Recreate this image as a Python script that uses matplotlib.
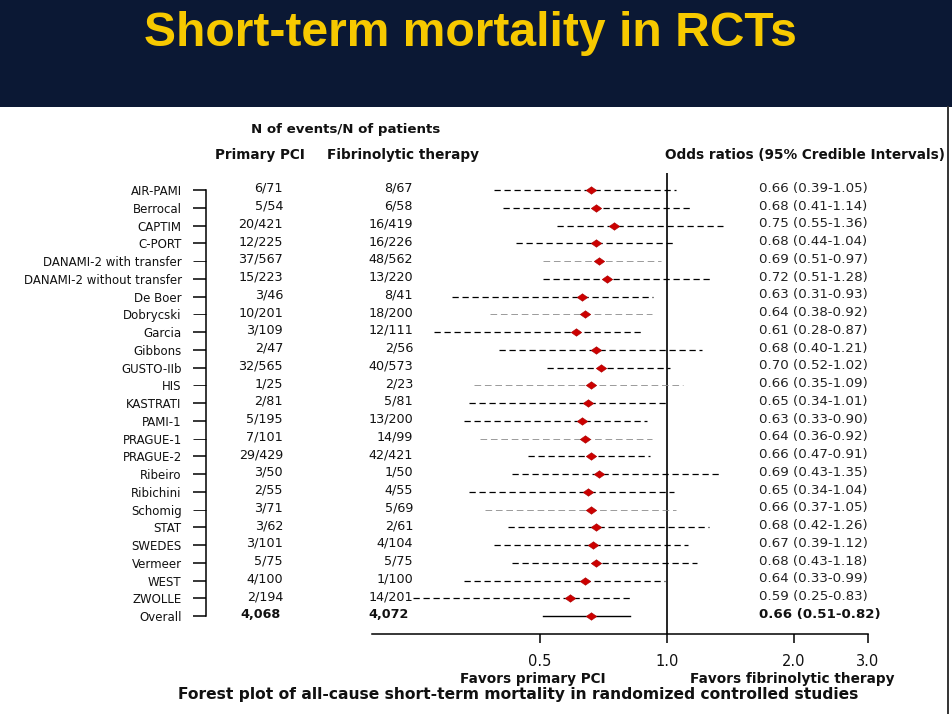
import numpy as np
import matplotlib
matplotlib.use("Agg")
import matplotlib.pyplot as plt
from matplotlib.patches import Rectangle
from matplotlib.lines import Line2D
from matplotlib.transforms import blended_transform_factory

plt.rcParams.update({'font.family': 'DejaVu Sans'})

# data
studies = ["AIR-PAMI", "Berrocal", "CAPTIM", "C-PORT", "DANAMI-2 with transfer",
           "DANAMI-2 without transfer", "De Boer", "Dobrycski", "Garcia", "Gibbons",
           "GUSTO-IIb", "HIS", "KASTRATI", "PAMI-1", "PRAGUE-1", "PRAGUE-2", "Ribeiro",
           "Ribichini", "Schomig", "STAT", "SWEDES", "Vermeer", "WEST", "ZWOLLE"]
pci_events = [6, 5, 20, 12, 37, 15, 3, 10, 3, 2, 32, 1, 2, 5, 7, 29, 3, 2, 3, 3, 3, 5, 4, 2]
pci_total = [71, 54, 421, 225, 567, 223, 46, 201, 109, 47, 565, 25, 81, 195, 101, 429,
             50, 55, 71, 62, 101, 75, 100, 194]
fib_events = [8, 6, 16, 16, 48, 13, 8, 18, 12, 2, 40, 2, 5, 13, 14, 42, 1, 4, 5, 2, 4, 5, 1, 14]
fib_total = [67, 58, 419, 226, 562, 220, 41, 200, 111, 56, 573, 23, 81, 200, 99, 421,
             50, 55, 69, 61, 104, 75, 100, 201]
or_med = [0.66, 0.68, 0.75, 0.68, 0.69, 0.72, 0.63, 0.64, 0.61, 0.68, 0.70, 0.66,
          0.65, 0.63, 0.64, 0.66, 0.69, 0.65, 0.66, 0.68, 0.67, 0.68, 0.64, 0.59]
or_lo = [0.39, 0.41, 0.55, 0.44, 0.51, 0.51, 0.31, 0.38, 0.28, 0.40, 0.52, 0.35,
         0.34, 0.33, 0.36, 0.47, 0.43, 0.34, 0.37, 0.42, 0.39, 0.43, 0.33, 0.25]
or_hi = [1.05, 1.14, 1.36, 1.04, 0.97, 1.28, 0.93, 0.92, 0.87, 1.21, 1.02, 1.09,
         1.01, 0.90, 0.92, 0.91, 1.35, 1.04, 1.05, 1.26, 1.12, 1.18, 0.99, 0.83]
overall = (0.66, 0.51, 0.82)
faint_rows = ["DANAMI-2 with transfer", "Dobrycski", "HIS", "PRAGUE-1", "Schomig"]
x_ticks = [0.5, 1.0, 2.0, 3.0]

W, H = 952, 714
fig = plt.figure(figsize=(W / 100, H / 100), dpi=100)
fig.patch.set_facecolor('white')

def fx(px):
    return px / W

def fy(py):
    return 1 - py / H

# header banner
fig.patches.append(Rectangle((0, fy(107)), 1, 107 / H, transform=fig.transFigure,
                             facecolor='#0b1834', edgecolor='none', zorder=0))
fig.text(fx(470), fy(46), "Short-term mortality in RCTs", ha='center', va='baseline',
         fontsize=34.6, fontweight='bold', family='Liberation Sans', color='#f7c900')
fig.add_artist(Line2D([fx(948), fx(948)], [0, fy(107)], transform=fig.transFigure,
                      color='#333333', lw=1.4))

labels = studies + ["Overall"]
n = len(labels)
rows = np.arange(n)
txt = '#111111'

# forest plot axes (log scale)
ax = fig.add_axes([fx(372), fy(634), fx(868) - fx(372), (634 - 173) / H])
ax.set_xscale('log')
ax.set_xlim(0.2, 3.0)
ax.set_ylim(n - 1 + 1.01, -0.96)
for s in ['left', 'right', 'top']:
    ax.spines[s].set_visible(False)
ax.spines['bottom'].set_linewidth(1.1)
ax.set_facecolor('none')
ax.set_yticks([])
ax.xaxis.set_minor_locator(matplotlib.ticker.NullLocator())
ax.set_xticks(x_ticks)
ax.set_xticklabels(["%.1f" % t for t in x_ticks], fontsize=10.5, color=txt)
ax.tick_params(axis='x', direction='out', length=6.5, width=1.1, pad=8)
ax.axvline(1.0, color='black', lw=1.2)

for i, name in enumerate(studies):
    faint = name in faint_rows
    ax.plot([or_lo[i], or_hi[i]], [i, i], color='#8a8a8a' if faint else 'black',
            lw=0.6 if faint else 0.9, linestyle=(0, (5, 3)) if not faint else (0, (8, 4.5)))
ax.plot([overall[1], overall[2]], [n - 1, n - 1], color='black', lw=1.0)
diamond = [(-1, 0), (0, 0.72), (1, 0), (0, -0.72), (-1, 0)]
ax.plot(or_med + [overall[0]], rows, linestyle='none', marker=diamond, markersize=7.5,
        color='#cc0000', markeredgecolor='#aa0000', markeredgewidth=0.4)

# study labels with bracket ticks
axl = fig.add_axes([fx(206), fy(634), 0.001, (634 - 173) / H])
axl.set_ylim(ax.get_ylim())
axl.set_xticks([])
for s in ['right', 'top', 'bottom']:
    axl.spines[s].set_visible(False)
axl.spines['left'].set_bounds(0, n - 1)
axl.spines['left'].set_linewidth(1.1)
axl.set_yticks(rows)
axl.set_yticklabels(labels, fontsize=8.5, color=txt)
axl.tick_params(axis='y', direction='out', length=9.5, width=1.1, pad=8)
for i, tk in enumerate(axl.yaxis.get_major_ticks()):
    if labels[i] in faint_rows:
        tk.tick1line.set_color('#8a8a8a')
        tk.tick1line.set_markeredgewidth(0.6)

# text columns
tr = blended_transform_factory(fig.transFigure, ax.transData)
for i in range(len(studies)):
    ax.text(fx(283), i - 0.1, "%d/%d" % (pci_events[i], pci_total[i]), transform=tr,
            ha='right', va='center', fontsize=9.2, color=txt)
    ax.text(fx(413), i - 0.1, "%d/%d" % (fib_events[i], fib_total[i]), transform=tr,
            ha='right', va='center', fontsize=9.2, color=txt)
    ax.text(fx(759), i - 0.1, "%.2f (%.2f-%.2f)" % (or_med[i], or_lo[i], or_hi[i]),
            transform=tr, ha='left', va='center', fontsize=9.6, color='#222222')
ax.text(fx(281), n - 1 - 0.1, "{:,}".format(sum(pci_total)), transform=tr, ha='right',
        va='center', fontsize=9.2, fontweight='bold', color=txt)
ax.text(fx(409), n - 1 - 0.1, "{:,}".format(sum(fib_total)), transform=tr, ha='right',
        va='center', fontsize=9.2, fontweight='bold', color=txt)
ax.text(fx(759), n - 1 - 0.1, "%.2f (%.2f-%.2f)" % overall, transform=tr, ha='left',
        va='center', fontsize=9.6, fontweight='bold', color=txt)

# column headers
fig.text(fx(346), fy(129), "N of events/N of patients", ha='center', va='center',
         fontsize=9.6, fontweight='bold', color=txt)
fig.text(fx(260), fy(155), "Primary PCI", ha='center', va='center',
         fontsize=9.8, fontweight='bold', color=txt)
fig.text(fx(403), fy(155), "Fibrinolytic therapy", ha='center', va='center',
         fontsize=9.8, fontweight='bold', color=txt)
fig.text(fx(945), fy(155), "Odds ratios (95% Credible Intervals)", ha='right', va='center',
         fontsize=9.8, fontweight='bold', color=txt)

# favour labels and caption
fig.text(fx(533), fy(679), "Favors primary PCI", ha='center', va='center',
         fontsize=9.8, fontweight='bold', color=txt)
fig.text(fx(792), fy(679), "Favors fibrinolytic therapy", ha='center', va='center',
         fontsize=9.8, fontweight='bold', color=txt)
fig.text(fx(518), fy(695), "Forest plot of all-cause short-term mortality in randomized controlled studies",
         ha='center', va='center', fontsize=11.2, fontweight='bold', color=txt)

fig.savefig("out.png", dpi=100)
